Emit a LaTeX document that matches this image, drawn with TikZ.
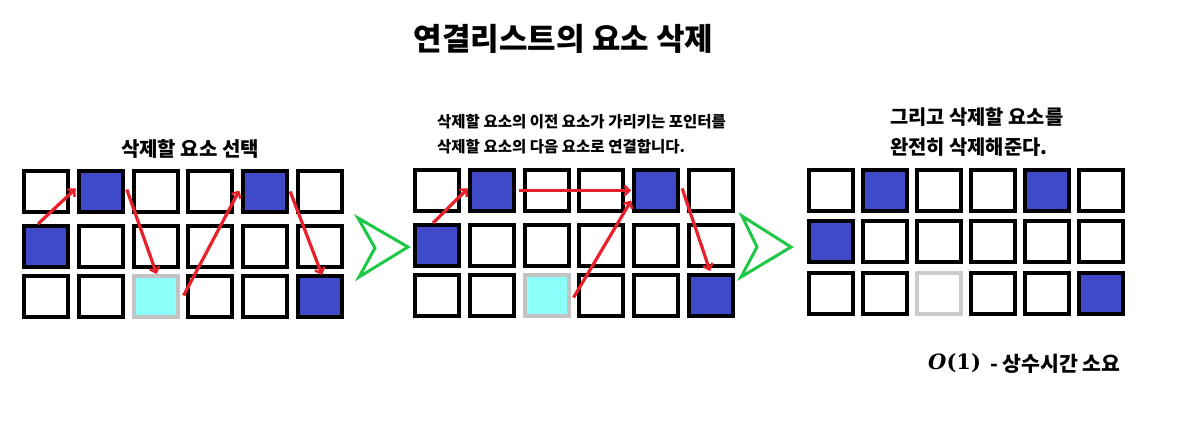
\documentclass[tikz,border=0pt]{standalone}
\usepackage{fontspec}
\newfontfamily\kr{Noto Sans CJK KR}
\newfontfamily\bigser{DejaVu Serif}
\usetikzlibrary{arrows.meta,calc}
\definecolor{cellblue}{RGB}{64,73,200}
\definecolor{cellcyan}{RGB}{140,255,250}
\definecolor{redarr}{RGB}{232,32,42}
\definecolor{grn}{RGB}{30,200,70}
\definecolor{lgray}{RGB}{195,195,195}
\tikzset{
  cell/.style={draw=black, line width=4pt, fill=white, inner sep=0pt, minimum width=44pt, minimum height=41pt},
  bluecell/.style={cell, fill=cellblue},
  cyancell/.style={cell, fill=cellcyan, draw=lgray},
  gonecell/.style={cell, draw=lgray!85},
  ptr/.style={draw=redarr, line width=3.2pt, -{Straight Barb[length=5pt,width=10pt,line width=2.5pt]}},
  chev/.style={draw=grn, line width=3pt, line join=miter},
  lbl/.style={font=\kr\bfseries, inner sep=0pt}
}
\begin{document}
\begin{tikzpicture}[x=1pt,y=-1pt]
\useasboundingbox (0,0) rectangle (1197,431);
% title
\node[lbl, font=\kr\bfseries\fontsize{31}{36}\selectfont] (title) at (563.5,39) {연결리스트의 요소 삭제};
% grid 1
\foreach \r/\yt in {1/169,2/224,3/274}{
  \foreach \c in {1,...,6}{
    \node[cell] (g1-\r-\c) at ({46+54.8*(\c-1)},{\yt+22.5}) {};
  }
}
\node[bluecell] at (g1-1-2) {};
\node[bluecell] at (g1-1-5) {};
\node[bluecell] at (g1-2-1) {};
\node[bluecell] at (g1-3-6) {};
\node[cyancell] at (g1-3-3) {};
% grid 2
\foreach \r/\yt in {1/168,2/223,3/273}{
  \foreach \c in {1,...,6}{
    \node[cell] (g2-\r-\c) at ({437+54.8*(\c-1)},{\yt+22.5}) {};
  }
}
\node[bluecell] at (g2-1-2) {};
\node[bluecell] at (g2-1-5) {};
\node[bluecell] at (g2-2-1) {};
\node[bluecell] at (g2-3-6) {};
\node[cyancell] at (g2-3-3) {};
% grid 3
\foreach \r/\yt in {1/168,2/219,3/271}{
  \foreach \c in {1,...,6}{
    \node[cell] (g3-\r-\c) at ({831+54*(\c-1)},{\yt+22.5}) {};
  }
}
\node[bluecell] at (g3-1-2) {};
\node[bluecell] at (g3-1-5) {};
\node[bluecell] at (g3-2-1) {};
\node[bluecell] at (g3-3-6) {};
\node[gonecell] at (g3-3-3) {};
% arrows grid 1
\draw[ptr] ($(g1-2-1.north)+(-8,0)$) -- ($(g1-1-2.west)+(-1,-3)$);
\draw[ptr] ($(g1-1-2.east)+(2,-2)$) -- ($(g1-3-3.north)+(1,0)$);
\draw[ptr] ($(g1-3-3.east)+(4,-1)$) -- ($(g1-1-5.west)+(-2,-1)$);
\draw[ptr] ($(g1-1-5.east)+(1,0)$) -- ($(g1-3-6.north)+(2,1)$);
% arrows grid 2
\draw[ptr] ($(g2-2-1.north)+(-4,0)$) -- ($(g2-1-2.west)+(0,-2)$);
\draw[ptr] ($(g2-1-2.east)+(3,0)$) -- ($(g2-1-5.west)+(-1,0)$);
\draw[ptr] ($(g2-3-3.east)+(3,2)$) -- ($(g2-1-5.west)+(-1,10)$);
\draw[ptr] ($(g2-1-5.east)+(2,-2)$) -- ($(g2-3-6.north)+(-1,-2)$);
% chevrons
\draw[chev] (358,218) -- (408,247) -- (359,277) -- (375,248) -- cycle;
\draw[chev] (742,216) -- (791,247) -- (741,277) -- (757,247) -- cycle;
% labels
\node[lbl, font=\kr\bfseries\fontsize{20}{24}\selectfont] (l1) at (190,149) {삭제할 요소 선택};
\node[lbl, font=\kr\bfseries\fontsize{15.5}{25}\selectfont, anchor=west, align=left] (l2) at (437,134.5) {삭제할 요소의 이전 요소가 가리키는 포인터를\\삭제할 요소의 다음 요소로 연결합니다.};
\node[lbl, font=\kr\bfseries\fontsize{19.8}{30}\selectfont, anchor=west, align=left] (l3) at (890,132) {그리고 삭제할 요소를\\완전히 삭제해준다.};
\node[inner sep=0pt, anchor=west] (big) at (928,363) {\bigser\fontsize{21}{26}\selectfont\bfseries\itshape O\upshape(1)};
\node[lbl, font=\kr\bfseries\fontsize{20.5}{24}\selectfont, anchor=west] (cost) at (990,364) {- 상수시간 소요};
\end{tikzpicture}
\end{document}
